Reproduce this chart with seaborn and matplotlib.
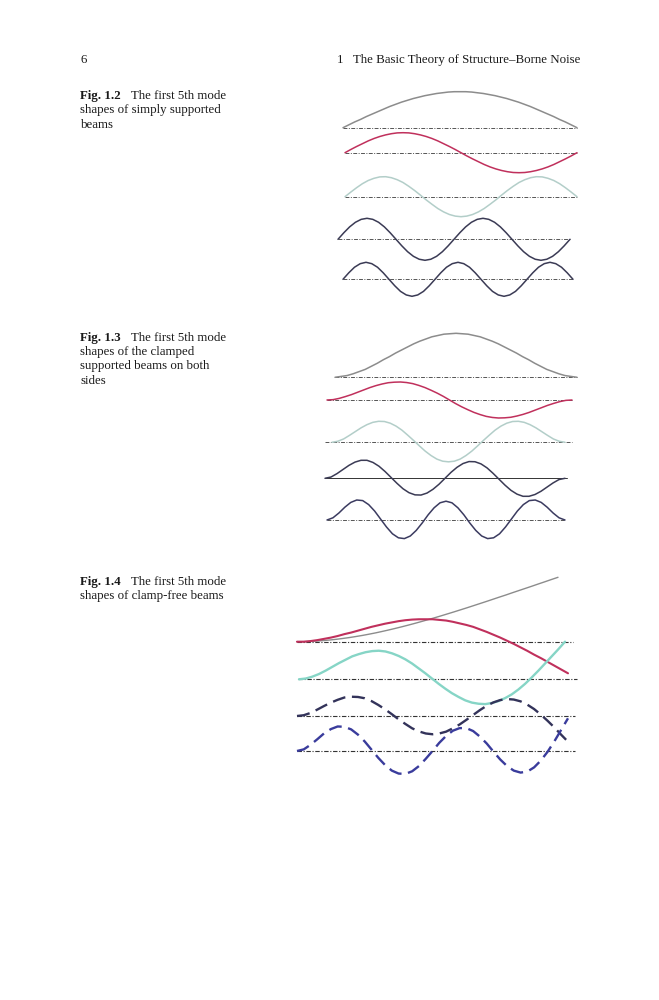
import matplotlib
matplotlib.use('Agg')
import matplotlib.pyplot as plt
import seaborn as sns

# beam position (fraction of length) where each mode shape is read
beam_x = [0.0, 0.025, 0.05, 0.075, 0.1, 0.125, 0.15, 0.175, 0.2, 0.225,
          0.25, 0.275, 0.3, 0.325, 0.35, 0.375, 0.4, 0.425, 0.45, 0.475,
          0.5, 0.525, 0.55, 0.575, 0.6, 0.625, 0.65, 0.675, 0.7, 0.725,
          0.75, 0.775, 0.8, 0.825, 0.85, 0.875, 0.9, 0.925, 0.95, 0.975, 1.0]

# Fig 1.2 simply supported, modes 1-5
ss_mode1 = [0, .08, .16, .23, .31, .38, .45, .52, .59, .65, .71, .76, .81, .85, .89, .92, .95, .97, .99, 1.0,
            1.0, 1.0, .99, .97, .95, .92, .89, .85, .81, .76, .71, .65, .59, .52, .45, .38, .31, .23, .16, .08, 0]
ss_mode2 = [0, .16, .31, .45, .59, .71, .81, .89, .95, .99, 1.0, .99, .95, .89, .81, .71, .59, .45, .31, .16,
            0, -.16, -.31, -.45, -.59, -.71, -.81, -.89, -.95, -.99, -1.0, -.99, -.95, -.89, -.81, -.71, -.59, -.45, -.31, -.16, 0]
ss_mode3 = [0, .23, .45, .65, .81, .92, .99, 1.0, .95, .85, .71, .52, .31, .08, -.16, -.38, -.59, -.76, -.89, -.97,
            -1.0, -.97, -.89, -.76, -.59, -.38, -.16, .08, .31, .52, .71, .85, .95, 1.0, .99, .92, .81, .65, .45, .23, 0]
ss_mode4 = [0, .31, .59, .81, .95, 1.0, .95, .81, .59, .31, 0, -.31, -.59, -.81, -.95, -1.0, -.95, -.81, -.59, -.31,
            0, .31, .59, .81, .95, 1.0, .95, .81, .59, .31, 0, -.31, -.59, -.81, -.95, -1.0, -.95, -.81, -.59, -.31, 0]
ss_mode5 = [0, .38, .71, .92, 1.0, .92, .71, .38, 0, -.38, -.71, -.92, -1.0, -.92, -.71, -.38, 0, .38, .71, .92,
            1.0, .92, .71, .38, 0, -.38, -.71, -.92, -1.0, -.92, -.71, -.38, 0, .38, .71, .92, 1.0, .92, .71, .38, 0]

# Fig 1.3 clamped on both sides, modes 1-5
cc_mode1 = [0, .02, .04, .08, .13, .18, .25, .32, .40, .47, .55, .62, .69, .76, .82, .87, .92, .95, .98, .99,
            1.0, .99, .98, .95, .92, .87, .82, .76, .69, .62, .55, .47, .40, .32, .25, .18, .13, .08, .04, .02, 0]
cc_mode2 = [0, .02, .09, .19, .30, .43, .56, .69, .80, .89, .96, .99, 1.0, .97, .91, .81, .69, .54, .38, .20,
            0, -.20, -.38, -.54, -.69, -.81, -.91, -.97, -1.0, -.99, -.96, -.89, -.80, -.69, -.56, -.43, -.30, -.19, -.09, -.02, 0]
cc_mode3 = [0, .05, .16, .33, .51, .69, .84, .95, 1.0, .99, .91, .77, .58, .34, .09, -.17, -.42, -.63, -.80, -.90,
            -.93, -.90, -.80, -.63, -.42, -.17, .09, .34, .58, .77, .91, .99, 1.0, .95, .84, .69, .51, .33, .16, .05, 0]
cc_mode4 = [0, .07, .26, .49, .72, .90, 1.0, 1.0, .88, .67, .38, .05, -.28, -.58, -.80, -.92, -.93, -.82, -.61, -.33,
            0, .33, .61, .82, .93, .92, .80, .58, .28, -.05, -.38, -.67, -.88, -1.0, -1.0, -.90, -.72, -.49, -.26, -.07, 0]
cc_mode5 = [0, .11, .35, .64, .88, 1.0, .97, .77, .45, .05, -.35, -.69, -.89, -.93, -.80, -.52, -.15, .26, .61, .86,
            .94, .86, .61, .26, -.15, -.52, -.80, -.93, -.89, -.69, -.35, .05, .45, .77, .97, 1.0, .88, .64, .35, .11, 0]

# Fig 1.4 clamp-free, modes 1-5
cf_mode1 = [0, .001, .004, .010, .017, .026, .037, .050, .064, .080, .097, .116, .136, .158, .181, .205, .230, .256,
            .283, .311, .340, .369, .399, .430, .461, .493, .525, .558, .591, .624, .658, .692, .725, .760, .794,
            .828, .862, .897, .931, .966, 1.0]
cf_mode2 = [0, 0, .02, .05, .09, .13, .18, .24, .29, .35, .41, .47, .52, .57, .61, .65, .68, .70, .71, .71,
            .71, .69, .67, .63, .58, .53, .47, .39, .31, .22, .13, .03, -.07, -.18, -.29, -.41, -.52, -.64, -.76, -.88, -1.0]
cf_mode3 = [0, .02, .07, .14, .23, .33, .43, .52, .61, .67, .72, .75, .76, .74, .69, .62, .53, .42, .29, .16,
            .02, -.12, -.25, -.37, -.47, -.56, -.62, -.65, -.66, -.63, -.58, -.50, -.40, -.27, -.12, .05, .23, .42, .61, .80, 1.0]
cf_mode4 = [0, .03, .12, .25, .39, .52, .63, .72, .75, .74, .69, .58, .43, .26, .07, -.13, -.31, -.48, -.60, -.68,
            -.71, -.68, -.61, -.48, -.33, -.15, .04, .23, .40, .53, .62, .66, .64, .57, .44, .27, .05, -.19, -.45, -.73, -1.0]
cf_mode5 = [0, .05, .19, .36, .54, .67, .75, .74, .66, .50, .29, .04, -.21, -.43, -.60, -.69, -.70, -.62, -.46, -.24,
            0, .25, .46, .62, .70, .70, .61, .44, .23, -.02, -.26, -.46, -.60, -.66, -.63, -.50, -.29, -.02, .30, .65, 1.0]

# page layout in pixels (left, right, baseline y, px per unit displacement)
W, H = 659, 1000
ss_left = [343, 345, 345, 338, 343]
ss_right = [577, 577, 577, 570, 573]
ss_base = [127.7, 152.7, 196.7, 239.3, 279.3]
ss_amp = [36, 20, 20, 21, 17]
ss_span = [(343, 577), (345, 577), (345, 577), (338, 570), (343, 573)]

cc_left = [335, 327, 332, 325, 327]
cc_right = [577, 572, 565, 565, 565]
cc_base = [377.3, 400, 442.3, 478.3, 520]
cc_amp = [44, 18, 21, 18, 20]
cc_span = [(335, 577), (327, 572), (325, 572), (325, 567), (327, 565)]

cf_left = [297, 297, 299, 297, 297]
cf_right = [558, 568, 565, 568, 568]
cf_base = [641.7, 641.7, 679.3, 716, 751]
cf_amp = [64.4, 31.6, 37.6, 25.7, 32.7]
cf_span = [None, (297, 573), (298, 577), (297, 575), (297, 575)]

gray, crimson, dark = '#8c8c8c', '#c0305c', '#3b3b55'
ss_colors = [gray, crimson, '#b3cec9', dark, dark]
cc_colors = [gray, crimson, '#b3cec9', dark, '#3b3b60']
cf_colors = [gray, crimson, '#86d5c6', '#33335a', '#3a3c9c']
dash = (0, (5.5, 2.8))
base_dashdot = (0, (4, 1.5, 1, 1.5))

sns.set_theme(style='white')
plt.rcParams['font.family'] = ['Liberation Serif', 'DejaVu Serif']

fig = plt.figure(figsize=(W / 100, H / 100), dpi=100)


def draw_mode(values, left, right, base, amp, color, lw, ls='-', span=None,
              base_color='#555555', base_lw=0.7, base_ls=base_dashdot):
    ax = fig.add_axes([left / W, 1 - (base + amp) / H, (right - left) / W, 2 * amp / H])
    ax.patch.set_alpha(0)
    if span is not None:
        x0 = (span[0] - left) / (right - left)
        x1 = (span[1] - left) / (right - left)
        ax.axhline(0, x0, x1, color=base_color, lw=base_lw, linestyle=base_ls,
                   clip_on=False, zorder=1)
    sns.lineplot(x=beam_x, y=values, ax=ax, color=color, linewidth=lw,
                 linestyle=ls, estimator=None, sort=False, zorder=2)
    for line in ax.lines:
        line.set_clip_on(False)
    ax.set_xlim(0, 1)
    ax.set_ylim(-1, 1)
    ax.axis('off')


ss_modes = [ss_mode1, ss_mode2, ss_mode3, ss_mode4, ss_mode5]
for i, vals in enumerate(ss_modes):
    draw_mode(vals, ss_left[i], ss_right[i], ss_base[i], ss_amp[i], ss_colors[i], 1.1,
              span=ss_span[i])

cc_modes = [cc_mode1, cc_mode2, cc_mode3, cc_mode4, cc_mode5]
for i, vals in enumerate(cc_modes):
    bls = '-' if i == 3 else base_dashdot
    bc = '#333333' if i == 3 else '#555555'
    draw_mode(vals, cc_left[i], cc_right[i], cc_base[i], cc_amp[i], cc_colors[i], 1.1,
              span=cc_span[i], base_color=bc, base_ls=bls)

cf_modes = [cf_mode1, cf_mode2, cf_mode3, cf_mode4, cf_mode5]
cf_widths = [1.0, 1.5, 1.7, 1.7, 1.7]
cf_styles = ['-', '-', '-', dash, dash]
for i, vals in enumerate(cf_modes):
    draw_mode(vals, cf_left[i], cf_right[i], cf_base[i], cf_amp[i], cf_colors[i], cf_widths[i],
              ls=cf_styles[i], span=cf_span[i], base_color='#333333', base_lw=0.8)


def page_text(x, y, s, bold=False):
    fig.text(x / W, 1 - y / H, s, fontsize=9.3, va='baseline', ha='left',
             fontweight='bold' if bold else 'normal', color='#1a1a1a')


# running header
page_text(80.7, 63, '6')
page_text(336.7, 63, '1')
page_text(353.3, 63, 'The Basic Theory of Structure\u2013Borne Noise')

# captions
captions = [
    ('Fig. 1.2', ['The first 5th mode', 'shapes of simply supported', 'beams'], 99),
    ('Fig. 1.3', ['The first 5th mode', 'shapes of the clamped', 'supported beams on both', 'sides'], 340.7),
    ('Fig. 1.4', ['The first 5th mode', 'shapes of clamp-free beams'], 585),
]
for label, lines, y0 in captions:
    page_text(80.5, y0, label, bold=True)
    page_text(130.7, y0, lines[0])
    for j, line in enumerate(lines[1:], start=1):
        page_text(80.5, y0 + 14.4 * j, line)

fig.savefig('out.png', dpi=100)
plt.close(fig)
print("saved out.png")
